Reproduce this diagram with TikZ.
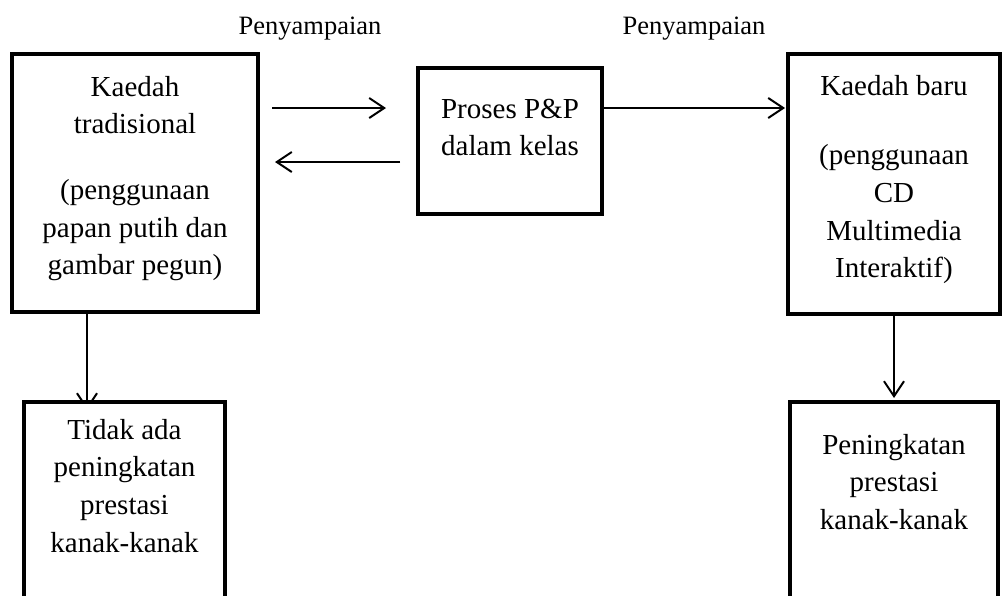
\documentclass[tikz,border=0pt]{standalone}
\usepackage{fontspec}
\setmainfont{Liberation Serif}
\usetikzlibrary{arrows.meta,positioning,backgrounds}

\begin{document}
\begin{tikzpicture}[x=1pt,y=-1pt,
kotak/.style n args={2}{draw,line width=4pt,fill=white,minimum width=#1pt,minimum height=#2pt,inner sep=0pt},
teks/.style={align=center,inner sep=0pt,outer sep=0pt,font=\fontsize{29}{37.7}\selectfont},
anak/.style={line width=2pt,-{Straight Barb[length=15pt,width=20pt]}}]
\useasboundingbox (0,0) rectangle (1003,595);
\clip (0,0) rectangle (1003,595);
% kotak-kotak
\node[kotak={246}{258}] (trad) at (135,183) {};
\node[kotak={184}{146}] (mid) at (510,141) {};
\node[kotak={212}{260}] (newm) at (894,184) {};
\node[kotak={201}{238}] (tidak) at (124.5,521) {};
\node[kotak={208}{238}] (naik) at (894,521) {};
% teks dalam kotak
\node[teks,below=24pt of trad.north] (tradtxt) {Kaedah\\tradisional\\[28pt](penggunaan\\papan putih dan\\gambar pegun)};
\node[teks,below=33pt of mid.north] (midtxt) {Proses P\&P\\dalam kelas};
\node[teks,below=23pt of newm.north] (newmtxt) {Kaedah baru\\[32pt](penggunaan\\CD\\Multimedia\\Interaktif)};
\node[teks,below=19pt of tidak.north] (tidaktxt) {Tidak ada\\peningkatan\\prestasi\\kanak-kanak};
\node[teks,below=34pt of naik.north] (naiktxt) {Peningkatan\\prestasi\\kanak-kanak};
\foreach \x/\n in {310/lbla,694/lblb} {
   \node[teks,anchor=base,font=\fontsize{26.5}{30}\selectfont] (\n) at (\x,34) {Penyampaian};
}
% anak panah
\draw[anak,shorten <=12pt,shorten >=30pt] (trad.east |- 0,108) -- (mid.west |- 0,108);
\draw[anak,shorten <=16pt,shorten >=15pt] (mid.west |- 0,162) -- (trad.east |- 0,162);
\draw[anak,shorten >=1pt] (mid.east |- 0,108) -- (newm.west |- 0,108);
\draw[anak,shorten >=2pt] (newm.south) -- (naik.north);
\begin{scope}[on background layer]
\draw[anak] ([xshift=-48pt]trad.south) -- ([xshift=-37.5pt,yshift=-10pt]tidak.north);
\end{scope}
\end{tikzpicture}
\end{document}
